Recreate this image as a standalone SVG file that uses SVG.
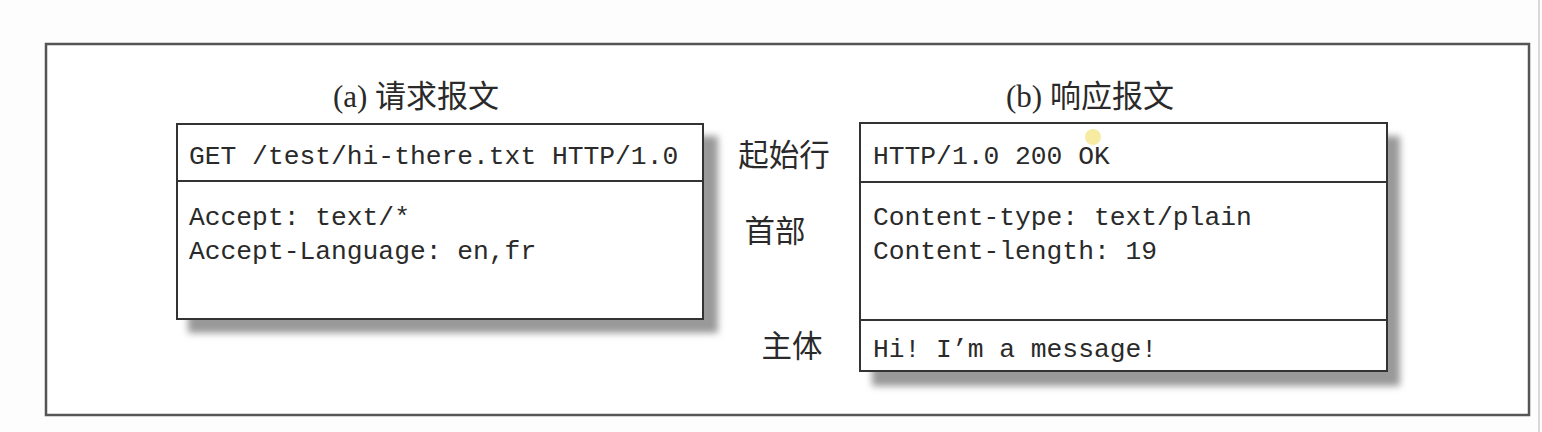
<svg xmlns="http://www.w3.org/2000/svg" width="1542" height="432" viewBox="0 0 1542 432">
<defs>
<filter id="sh" x="-10%" y="-10%" width="120%" height="130%"><feGaussianBlur stdDeviation="3.5"/></filter>
<style>
.box{fill:#fff;stroke:#333;stroke-width:2}
.sep{stroke:#333;stroke-width:2}
.shadow{fill:#999;filter:url(#sh)}
.mono{font-family:"Liberation Mono","DejaVu Sans Mono",monospace;font-size:26.3px;fill:#2a2a2a}
.title{font-family:"Liberation Serif","Noto Sans CJK SC",serif;font-size:31px;fill:#2a2a2a}
.lab{font-family:"Noto Sans CJK SC",sans-serif;font-size:30.5px;fill:#2a2a2a}
</style>
</defs>
<rect width="1542" height="432" fill="#fdfdfd"/>
<rect x="46" y="44" width="1483" height="371" fill="#fff" stroke="#555" stroke-width="2.5"/>
<line x1="1539" y1="0" x2="1539" y2="432" stroke="#ccc" stroke-width="1.5"/>

<g id="request">
<text class="title" x="416" y="107" text-anchor="middle">(a) 请求报文</text>
<rect class="shadow" x="188" y="136" width="530" height="197"/>
<rect class="box" x="177" y="124" width="526" height="195"/>
<line class="sep" x1="177" y1="181" x2="703" y2="181"/>
<text class="mono" x="189" y="164">GET /test/hi-there.txt HTTP/1.0</text>
<text class="mono" x="189" y="225">Accept: text/*</text>
<text class="mono" x="189" y="259">Accept-Language: en,fr</text>
</g>

<g id="response">
<text class="title" x="1090" y="107" text-anchor="middle">(b) 响应报文</text>
<rect class="shadow" x="872" y="136" width="528" height="250"/>
<rect class="box" x="860" y="123" width="527" height="248"/>
<line class="sep" x1="860" y1="182" x2="1387" y2="182"/>
<line class="sep" x1="860" y1="320" x2="1387" y2="320"/>
<text class="mono" x="873" y="164">HTTP/1.0 200 OK</text>
<text class="mono" x="873" y="225">Content-type: text/plain</text>
<text class="mono" x="873" y="259">Content-length: 19</text>
<text class="mono" x="873" y="357">Hi! I’m a message!</text>
<circle cx="1093" cy="137" r="8" fill="#f3e27a" opacity="0.7"/>
</g>

<g id="labels">
<text class="lab" x="784" y="166" text-anchor="middle">起始行</text>
<text class="lab" x="775" y="242" text-anchor="middle">首部</text>
<text class="lab" x="792" y="357" text-anchor="middle">主体</text>
</g>
<g id="connectors"/>
</svg>
